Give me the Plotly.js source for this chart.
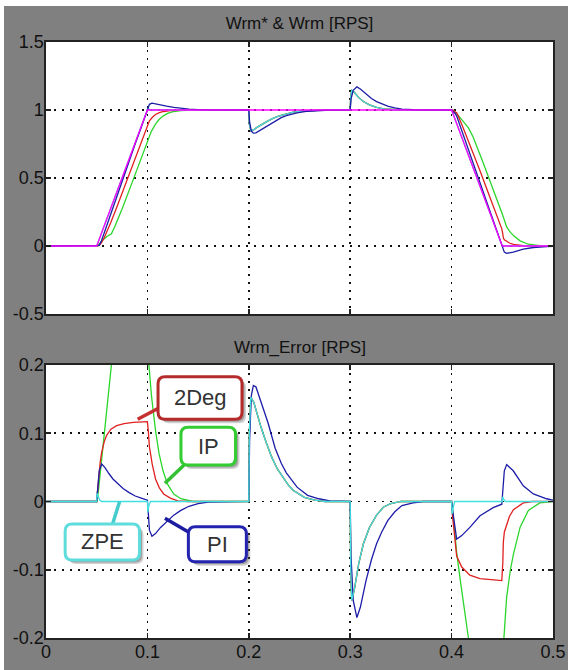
<!DOCTYPE html>
<html>
<head>
<meta charset="utf-8">
<script src="https://cdn.plot.ly/plotly-3.0.1.min.js"></script>
<style>
  html, body { margin: 0; padding: 0; background: #ffffff; overflow: hidden; }
  #chart { position: absolute; left: 4px; top: 6px; width: 564px; height: 664px; }
</style>
</head>
<body>
<div id="chart"></div>
<script>
// ---------------- DATA ----------------
// Top panel: speed reference and measured speeds [RPS]
const refT = [0, 0.05, 0.1, 0.4, 0.45, 0.5];
const refV = [0, 0, 1, 1, 0, 0];

const spdPI_T = [0, 0.05, 0.0525, 0.0549, 0.058, 0.062, 0.066, 0.071, 0.076, 0.082, 0.088, 0.094, 0.0995, 0.1008, 0.102, 0.1045, 0.108, 0.113, 0.119, 0.126, 0.133, 0.141, 0.15, 0.16, 0.2, 0.2008, 0.2025, 0.2045, 0.207, 0.212, 0.219, 0.226, 0.232, 0.237, 0.2476, 0.258, 0.269, 0.28, 0.3, 0.3008, 0.303, 0.3066, 0.31, 0.3156, 0.321, 0.326, 0.331, 0.337, 0.344, 0.351, 0.362, 0.4, 0.4012, 0.4035, 0.405, 0.41, 0.418, 0.428, 0.441, 0.4495, 0.452, 0.4543, 0.4608, 0.4707, 0.4806, 0.4937, 0.5];
const spdPI_V = [0, 0, 0.005, 0.043, 0.11, 0.199, 0.287, 0.394, 0.501, 0.627, 0.752, 0.875, 0.987, 1.015, 1.042, 1.051, 1.047, 1.038, 1.029, 1.02, 1.013, 1.007, 1.003, 1.001, 1, 0.91, 0.845, 0.83, 0.832, 0.855, 0.885, 0.922, 0.944, 0.958, 0.979, 0.991, 0.996, 0.999, 1, 1.08, 1.145, 1.17, 1.155, 1.116, 1.085, 1.062, 1.045, 1.028, 1.015, 1.006, 1.002, 1, 0.991, 0.975, 0.955, 0.85, 0.678, 0.461, 0.189, 0.014, -0.045, -0.054, -0.045, -0.023, -0.011, -0.004, -0.002];

const spd2D_T = [0, 0.05, 0.0505, 0.0516, 0.0535, 0.0549, 0.0575, 0.0598, 0.064, 0.0697, 0.077, 0.086, 0.0993, 0.1, 0.1008, 0.102, 0.1047, 0.108, 0.1118, 0.116, 0.1226, 0.13, 0.14, 0.2, 0.2005, 0.202, 0.205, 0.208, 0.212, 0.2175, 0.2226, 0.228, 0.2334, 0.239, 0.244, 0.2548, 0.265, 0.275, 0.3, 0.3005, 0.3015, 0.304, 0.3084, 0.313, 0.319, 0.326, 0.333, 0.34, 0.35, 0.4, 0.402, 0.4035, 0.405, 0.41, 0.418, 0.428, 0.44, 0.4495, 0.4505, 0.451, 0.452, 0.4543, 0.457, 0.461, 0.4707, 0.48, 0.5];
const spd2D_V = [0, 0, 0, 0.002, 0.012, 0.026, 0.062, 0.099, 0.174, 0.283, 0.426, 0.604, 0.868, 0.883, 0.895, 0.92, 0.945, 0.967, 0.98, 0.989, 0.995, 0.999, 1, 1, 0.9, 0.847, 0.855, 0.872, 0.891, 0.915, 0.935, 0.952, 0.964, 0.976, 0.984, 0.994, 0.998, 1, 1, 1.1, 1.145, 1.13, 1.091, 1.062, 1.038, 1.02, 1.008, 1.003, 1, 1, 0.998, 0.987, 0.98, 0.896, 0.748, 0.553, 0.315, 0.126, 0.09, 0.06, 0.045, 0.033, 0.022, 0.012, 0.002, 0, 0];

const spdIP_T = [0, 0.0505, 0.052, 0.056, 0.06, 0.0645, 0.068, 0.075, 0.085, 0.1, 0.1015, 0.104, 0.108, 0.1115, 0.1154, 0.12, 0.126, 0.133, 0.145, 0.2, 0.2005, 0.202, 0.205, 0.208, 0.212, 0.2175, 0.2226, 0.228, 0.2334, 0.239, 0.244, 0.2548, 0.265, 0.275, 0.3, 0.3005, 0.3015, 0.304, 0.3084, 0.313, 0.319, 0.326, 0.333, 0.34, 0.35, 0.4, 0.4015, 0.405, 0.409, 0.413, 0.4166, 0.421, 0.43, 0.45, 0.4515, 0.4543, 0.458, 0.461, 0.4675, 0.4757, 0.487, 0.5];
const spdIP_V = [0, 0, 0.01, 0.045, 0.07, 0.09, 0.145, 0.272, 0.468, 0.768, 0.8, 0.845, 0.896, 0.93, 0.955, 0.975, 0.989, 0.996, 1, 1, 0.9, 0.847, 0.855, 0.872, 0.891, 0.915, 0.935, 0.952, 0.964, 0.976, 0.984, 0.994, 0.998, 1, 1, 1.1, 1.145, 1.13, 1.091, 1.062, 1.038, 1.02, 1.008, 1.003, 1, 1, 0.99, 0.975, 0.94, 0.905, 0.868, 0.805, 0.635, 0.235, 0.2, 0.14, 0.1, 0.077, 0.038, 0.013, 0.002, 0];

const spdZPE_T = [0, 0.05, 0.1, 0.1004, 0.1015, 0.103, 0.2, 0.2005, 0.202, 0.205, 0.208, 0.212, 0.2175, 0.2226, 0.228, 0.2334, 0.239, 0.244, 0.2548, 0.265, 0.275, 0.3, 0.3005, 0.3015, 0.304, 0.3084, 0.313, 0.319, 0.326, 0.333, 0.34, 0.35, 0.4, 0.45, 0.5];
const spdZPE_V = [0, 0, 1, 1.016, 1.006, 1, 1, 0.9, 0.847, 0.855, 0.872, 0.891, 0.915, 0.935, 0.952, 0.964, 0.976, 0.984, 0.994, 0.998, 1, 1, 1.1, 1.145, 1.13, 1.091, 1.062, 1.038, 1.02, 1.008, 1.003, 1, 1, 0, 0];

// Bottom panel: speed error [RPS]
const errPI_T = [0, 0.05, 0.0505, 0.0525, 0.0549, 0.058, 0.062, 0.066, 0.071, 0.076, 0.082, 0.088, 0.094, 0.0995, 0.1, 0.1008, 0.102, 0.1045, 0.108, 0.113, 0.119, 0.126, 0.133, 0.141, 0.15, 0.16, 0.2, 0.2008, 0.2025, 0.2045, 0.207, 0.212, 0.219, 0.226, 0.232, 0.237, 0.2476, 0.258, 0.269, 0.28, 0.3, 0.3008, 0.303, 0.3066, 0.31, 0.3156, 0.321, 0.326, 0.331, 0.337, 0.344, 0.351, 0.362, 0.372, 0.4, 0.4012, 0.4035, 0.405, 0.41, 0.418, 0.428, 0.441, 0.4495, 0.4505, 0.452, 0.4543, 0.4608, 0.4707, 0.4806, 0.4937, 0.5];
const errPI_V = [0, 0, 0.01, 0.045, 0.055, 0.05, 0.041, 0.033, 0.026, 0.019, 0.013, 0.008, 0.005, 0.003, 0.002, -0.015, -0.042, -0.051, -0.047, -0.038, -0.029, -0.02, -0.013, -0.007, -0.003, -0.001, 0, 0.09, 0.155, 0.17, 0.168, 0.145, 0.115, 0.078, 0.056, 0.042, 0.021, 0.009, 0.004, 0.001, 0, -0.08, -0.145, -0.17, -0.155, -0.116, -0.085, -0.062, -0.045, -0.028, -0.015, -0.006, -0.002, 0, 0, -0.015, -0.045, -0.055, -0.05, -0.038, -0.021, -0.009, -0.004, 0.02, 0.045, 0.054, 0.045, 0.023, 0.011, 0.004, 0.002];

const err2D_T = [0, 0.05, 0.0505, 0.0516, 0.0535, 0.0549, 0.0575, 0.0598, 0.064, 0.0697, 0.077, 0.086, 0.0993, 0.1, 0.1008, 0.102, 0.1047, 0.108, 0.1118, 0.116, 0.1226, 0.13, 0.14, 0.2, 0.2005, 0.202, 0.205, 0.208, 0.212, 0.2175, 0.2226, 0.228, 0.2334, 0.239, 0.244, 0.2548, 0.265, 0.275, 0.3, 0.3005, 0.3015, 0.304, 0.3084, 0.313, 0.319, 0.326, 0.333, 0.34, 0.35, 0.4, 0.4008, 0.4035, 0.405, 0.41, 0.418, 0.428, 0.44, 0.4495, 0.4505, 0.451, 0.452, 0.4543, 0.457, 0.461, 0.4707, 0.48, 0.5];
const err2D_V = [0, 0, 0.01, 0.03, 0.058, 0.072, 0.088, 0.097, 0.106, 0.111, 0.114, 0.116, 0.1176, 0.117, 0.105, 0.08, 0.055, 0.033, 0.02, 0.011, 0.005, 0.001, 0, 0, 0.1, 0.153, 0.145, 0.128, 0.109, 0.085, 0.065, 0.048, 0.036, 0.024, 0.016, 0.006, 0.002, 0, 0, -0.1, -0.145, -0.13, -0.091, -0.062, -0.038, -0.02, -0.008, -0.003, 0, 0, -0.02, -0.057, -0.08, -0.096, -0.108, -0.113, -0.115, -0.116, -0.09, -0.06, -0.045, -0.033, -0.022, -0.012, -0.002, 0, 0];

const errIP_T = [0, 0.0505, 0.052, 0.056, 0.06, 0.0645, 0.068, 0.075, 0.085, 0.1, 0.1015, 0.104, 0.108, 0.1115, 0.1154, 0.12, 0.126, 0.133, 0.145, 0.2, 0.2005, 0.202, 0.205, 0.208, 0.212, 0.2175, 0.2226, 0.228, 0.2334, 0.239, 0.244, 0.2548, 0.265, 0.275, 0.3, 0.3005, 0.3015, 0.304, 0.3084, 0.313, 0.319, 0.326, 0.333, 0.34, 0.35, 0.4, 0.4015, 0.405, 0.409, 0.413, 0.4166, 0.421, 0.43, 0.45, 0.4515, 0.4543, 0.458, 0.461, 0.4675, 0.4757, 0.487, 0.5];
const errIP_V = [0, 0, 0.02, 0.075, 0.13, 0.2, 0.215, 0.228, 0.232, 0.232, 0.2, 0.155, 0.104, 0.07, 0.045, 0.025, 0.011, 0.004, 0, 0, 0.1, 0.153, 0.145, 0.128, 0.109, 0.085, 0.065, 0.048, 0.036, 0.024, 0.016, 0.006, 0.002, 0, 0, -0.1, -0.145, -0.13, -0.091, -0.062, -0.038, -0.02, -0.008, -0.003, 0, 0, -0.02, -0.075, -0.12, -0.165, -0.2, -0.225, -0.235, -0.235, -0.2, -0.14, -0.1, -0.077, -0.038, -0.013, -0.002, 0];

const errZPE_T = [0, 0.05, 0.0503, 0.0515, 0.053, 0.055, 0.1, 0.1004, 0.1015, 0.103, 0.2, 0.2005, 0.202, 0.205, 0.208, 0.212, 0.2175, 0.2226, 0.228, 0.2334, 0.239, 0.244, 0.2548, 0.265, 0.275, 0.3, 0.3005, 0.3015, 0.304, 0.3084, 0.313, 0.319, 0.326, 0.333, 0.34, 0.35, 0.4, 0.4004, 0.4015, 0.403, 0.45, 0.4504, 0.4515, 0.453, 0.5];
const errZPE_V = [0, 0, 0.012, 0.006, 0.002, 0, 0, -0.016, -0.006, 0, 0, 0.1, 0.153, 0.145, 0.128, 0.109, 0.085, 0.065, 0.048, 0.036, 0.024, 0.016, 0.006, 0.002, 0, 0, -0.1, -0.145, -0.13, -0.091, -0.062, -0.038, -0.02, -0.008, -0.003, 0, 0, -0.018, -0.008, 0, 0, 0.007, 0.003, 0, 0];

// Axis ticks
const xTickVals = [0, 0.1, 0.2, 0.3, 0.4, 0.5];
const xTickText = ["0", "0.1", "0.2", "0.3", "0.4", "0.5"];
const yTopTickVals = [-0.5, 0, 0.5, 1, 1.5];
const yTopTickText = ["-0.5", "0", "0.5", "1", "1.5"];
const yBotTickVals = [-0.2, -0.1, 0, 0.1, 0.2];
const yBotTickText = ["-0.2", "-0.1", "0", "0.1", "0.2"];

// Titles and callout labels
const topTitle = "Wrm* &amp; Wrm [RPS]";
const botTitle = "Wrm_Error [RPS]";
const calloutLabels = ["2Deg", "IP", "ZPE", "PI"];

// ---------------- STYLE / LAYOUT ----------------
const C = { PI: "#1c1ca8", D2: "#e02020", IP: "#2bd62b", ZPE: "#40e0e0", REF: "#ff00ff" };
const LW = 1.3;

// callout geometry (bottom-axis coordinates): box [t0,t1,v0,v1], leader [ta,va,tb,vb]
const calloutGeom = [
  { box: [0.1105, 0.1933, 0.1204, 0.1829], lead: [0.1150, 0.1400, 0.0904, 0.1204], border: "#b52a2a", lead_c: "#c63030" },
  { box: [0.1331, 0.1869, 0.0535, 0.1087], lead: [0.1380, 0.0560, 0.1173, 0.0267], border: "#33cc33", lead_c: "#33c033" },
  { box: [0.0189, 0.0922, -0.0857, -0.0330], lead: [0.0654, -0.0340, 0.0726, 0.0000], border: "#5fdcdc", lead_c: "#44cccc" },
  { box: [0.1404, 0.1976, -0.0882, -0.0369], lead: [0.1430, -0.0470, 0.1173, -0.0246], border: "#2323b0", lead_c: "#1c1ca0" }
];

function tr(x, y, color, xa, ya) {
  return { x: x, y: y, type: "scatter", mode: "lines", xaxis: xa, yaxis: ya,
           line: { color: color, width: LW }, hoverinfo: "skip", showlegend: false };
}

const data = [
  tr(spdIP_T, spdIP_V, C.IP, "x", "y"),
  tr(spd2D_T, spd2D_V, C.D2, "x", "y"),
  tr(spdZPE_T, spdZPE_V, C.ZPE, "x", "y"),
  tr(spdPI_T, spdPI_V, C.PI, "x", "y"),
  tr(refT, refV, C.REF, "x", "y"),
  tr(errIP_T, errIP_V, C.IP, "x2", "y2"),
  tr(err2D_T, err2D_V, C.D2, "x2", "y2"),
  tr(errPI_T, errPI_V, C.PI, "x2", "y2"),
  tr(errZPE_T, errZPE_V, C.ZPE, "x2", "y2")
];

const FONT = "Arial, 'Liberation Sans', sans-serif";
const gridStyle = { showgrid: true, gridcolor: "#111", gridwidth: 1.6, griddash: "2px,6px",
  zeroline: false, showline: true, linecolor: "#222", linewidth: 1.6, mirror: "ticks",
  ticks: "inside", ticklen: 5, tickwidth: 1.6, tickcolor: "#222", ticklabelstandoff: -3,
  tickfont: { family: FONT, size: 18, color: "#111" }, fixedrange: true };

// plot pixel scales for rounded boxes (bottom panel: 507 px per 0.5 s, 273 px per 0.4)
const pxT = 0.5 / 507, pxV = 0.4 / 273;
function roundRect(b, dx, dy) {
  const x0 = b[0] + dx, x1 = b[1] + dx, y0 = b[2] + dy, y1 = b[3] + dy;
  const rx = 7 * pxT, ry = 7 * pxV;
  return `M ${x0 + rx},${y1} L ${x1 - rx},${y1} Q ${x1},${y1} ${x1},${y1 - ry} L ${x1},${y0 + ry} Q ${x1},${y0} ${x1 - rx},${y0} L ${x0 + rx},${y0} Q ${x0},${y0} ${x0},${y0 + ry} L ${x0},${y1 - ry} Q ${x0},${y1} ${x0 + rx},${y1} Z`;
}

const shapes = [];
calloutGeom.forEach(g => {
  shapes.push({ type: "path", xref: "x2", yref: "y2", path: roundRect(g.box, 4 * pxT, -4 * pxV),
                fillcolor: "rgba(70,70,70,0.25)", line: { width: 0 }, layer: "above" });
  shapes.push({ type: "path", xref: "x2", yref: "y2", path: roundRect(g.box, 2.5 * pxT, -2.5 * pxV),
                fillcolor: "rgba(70,70,70,0.35)", line: { width: 0 }, layer: "above" });
});
calloutGeom.forEach(g => {
  shapes.push({ type: "line", xref: "x2", yref: "y2", x0: g.lead[0], y0: g.lead[1], x1: g.lead[2], y1: g.lead[3],
                line: { color: g.lead_c, width: 3.5 }, layer: "above" });
});
calloutGeom.forEach(g => {
  shapes.push({ type: "path", xref: "x2", yref: "y2", path: roundRect(g.box, 0, 0),
                fillcolor: "#ffffff", line: { color: g.border, width: 3 }, layer: "above" });
});

const annotations = [
  { xref: "paper", yref: "paper", x: 0.5, y: (632 - 341) / 596, xanchor: "center", yanchor: "middle",
    text: botTitle, showarrow: false, font: { family: FONT, size: 17, color: "#111" } }
];
calloutGeom.forEach((g, i) => {
  annotations.push({ xref: "x2", yref: "y2", x: (g.box[0] + g.box[1]) / 2, y: (g.box[2] + g.box[3]) / 2,
    xanchor: "center", yanchor: "middle", text: calloutLabels[i], showarrow: false,
    font: { family: FONT, size: 22, color: "#333" } });
});

const layout = {
  width: 564, height: 664,
  paper_bgcolor: "#808080", plot_bgcolor: "#ffffff",
  margin: { l: 42, r: 15, t: 36, b: 32, pad: 0 },
  showlegend: false, hovermode: false,
  title: { text: topTitle, font: { family: FONT, size: 17, color: "#111" },
           x: 0.5, xref: "paper", xanchor: "center", y: 1 - 17 / 664, yref: "container", yanchor: "middle" },
  xaxis: Object.assign({}, gridStyle, { domain: [0, 1], anchor: "y", range: [0, 0.5],
           tickmode: "array", tickvals: xTickVals, ticktext: xTickText, showticklabels: false }),
  yaxis: Object.assign({}, gridStyle, { domain: [0.5436, 1], anchor: "x", range: [-0.5, 1.5],
           tickmode: "array", tickvals: yTopTickVals, ticktext: yTopTickText }),
  xaxis2: Object.assign({}, gridStyle, { domain: [0, 1], anchor: "y2", range: [0, 0.5],
           tickmode: "array", tickvals: xTickVals, ticktext: xTickText }),
  yaxis2: Object.assign({}, gridStyle, { domain: [0, 0.4581], anchor: "x2", range: [-0.2, 0.2],
           tickmode: "array", tickvals: yBotTickVals, ticktext: yBotTickText }),
  shapes: shapes,
  annotations: annotations
};

Plotly.newPlot("chart", data, layout, { staticPlot: true, displayModeBar: false });
</script>
</body>
</html>
